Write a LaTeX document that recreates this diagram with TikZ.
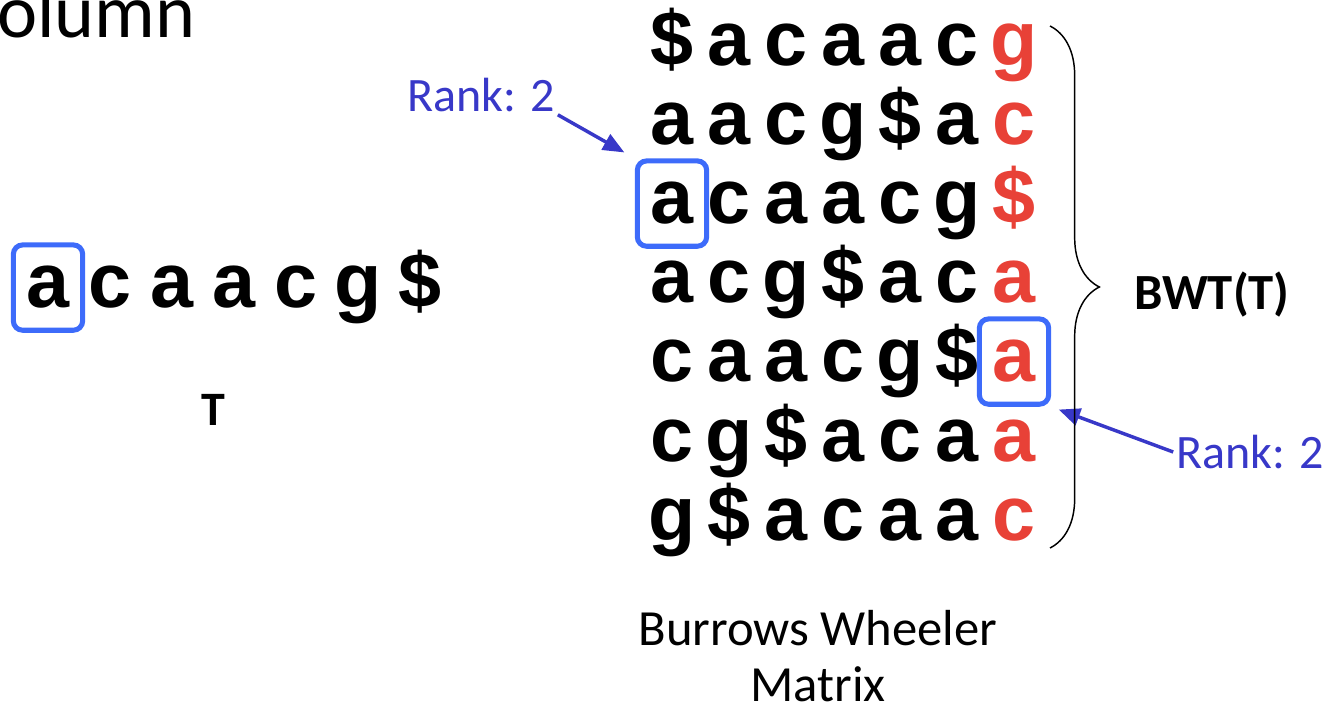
\documentclass[tikz,border=0pt]{standalone}
\usepackage{fontspec}
\setmainfont{Carlito}
\newfontfamily\arialfont{Liberation Sans}
\usetikzlibrary{arrows.meta,decorations.pathreplacing}

\definecolor{bwtred}{RGB}{232,65,55}
\definecolor{boxblue}{RGB}{61,107,250}
\definecolor{rankblue}{RGB}{56,56,200}

\tikzset{
  letter/.style={font=\arialfont\bfseries\fontsize{58}{58}\selectfont, inner sep=0pt, anchor=base},
  hlbox/.style={draw=boxblue, line width=3.8pt, rounded corners=7pt, minimum width=52pt, minimum height=64pt, inner sep=0pt},
  rank/.style={text=rankblue, font=\fontsize{36}{36}\selectfont, inner sep=2pt},
  rankarrow/.style={draw=rankblue, line width=2.6pt, -{Triangle[length=16pt,width=13pt]}},
}

\begin{document}
\begin{tikzpicture}[x=0.75pt, y=-0.75pt]
  \useasboundingbox (0,0) rectangle (1327,712);

  % heading, cut off at the left edge
  \node[font=\fontsize{57}{57}\selectfont, anchor=base west, inner sep=0pt] (head) at (-3,38) {olumn};

  % the text T
  \foreach \ch [count=\i] in {a,c,a,a,c,g,\$}
    \node[letter] (t-\i) at ({48+62*(\i-1)},308) {\ch};
  \node[font=\bfseries\fontsize{36}{36}\selectfont] (tlabel) at (213,410) {T};

  % sorted rotations, last column in red
  \foreach \row [count=\r] in {{\$,a,c,a,a,c,g},{a,a,c,g,\$,a,c},{a,c,a,a,c,g,\$},
      {a,c,g,\$,a,c,a},{c,a,a,c,g,\$,a},{c,g,\$,a,c,a,a},{g,\$,a,c,a,a,c}}
    \foreach \ch [count=\c] in \row {
      \ifnum\c=7 \def\chcol{bwtred}\else\def\chcol{black}\fi
      \node[letter, text=\chcol] (m-\r-\c) at ({672+57*(\c-1)},{66+79*(\r-1)}) {\ch};
    }

  % highlight boxes
  \node[hlbox] (tbox) at (t-1.center) {};
  \node[hlbox] (box1) at (m-3-1.center) {};
  \node[hlbox] (box2) at (m-5-7.center) {};

  % rank labels
  \node[rank] (rank1) at (481,95) {Rank: 2};
  \node[rank] (rank2) at (1250,452) {Rank: 2};
  \draw[rankarrow, shorten >=9pt] (rank1.south east) -- (box1.north west);
  \draw[rankarrow, shorten >=6pt] (rank2.west) -- (box2.south east);

  % brace over the last column
  \coordinate (brtop) at (1050,26);
  \coordinate (brbot) at (1050,548);
  \draw[line width=1.1pt, decorate, decoration={brace, amplitude=37pt}] (brtop) -- (brbot);
  \node[font=\bfseries\fontsize{38}{38}\selectfont] (bwt) at (1212,295) {BWT(T)};

  \node[font=\fontsize{38}{42}\selectfont, align=center, inner sep=0pt] (caption) at (818,656) {Burrows Wheeler\\Matrix};
\end{tikzpicture}
\end{document}
